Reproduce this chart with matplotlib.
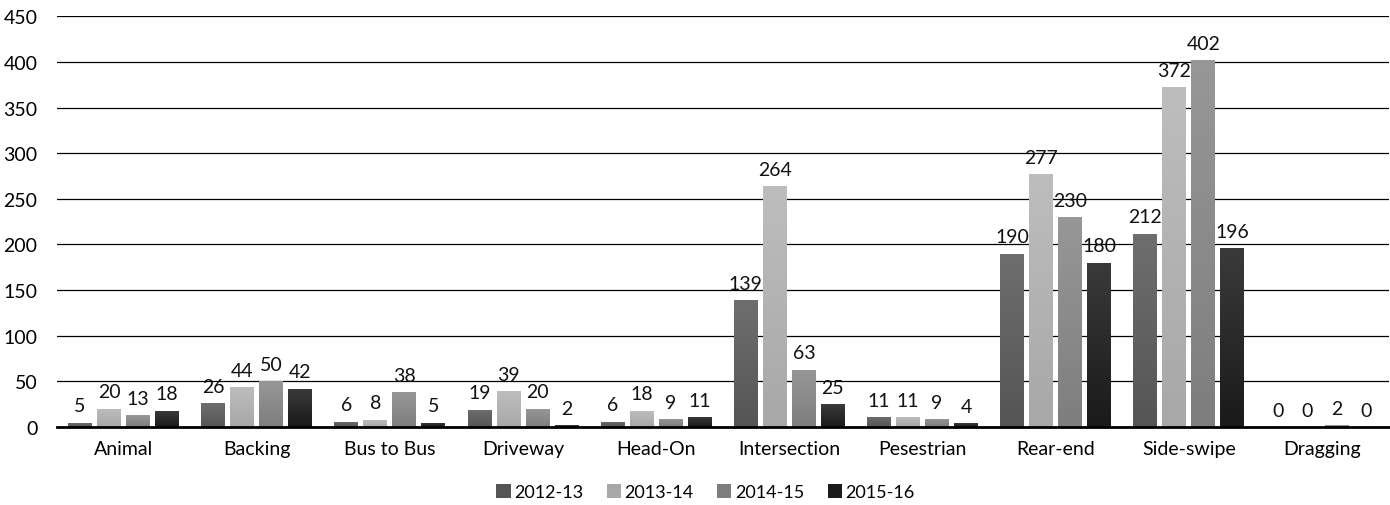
import numpy as np
import matplotlib.pyplot as plt
from matplotlib.colors import LinearSegmentedColormap

categories = ['Animal', 'Backing', 'Bus to Bus', 'Driveway', 'Head-On',
              'Intersection', 'Pesestrian', 'Rear-end', 'Side-swipe', 'Dragging']
seasons = ['2012-13', '2013-14', '2014-15', '2015-16']
v_2012 = [5, 26, 6, 19, 6, 139, 11, 190, 212, 0]
v_2013 = [20, 44, 8, 39, 18, 264, 11, 277, 372, 0]
v_2014 = [13, 50, 38, 20, 9, 63, 9, 230, 402, 2]
v_2015 = [18, 42, 5, 2, 11, 25, 4, 180, 196, 0]
series = [v_2012, v_2013, v_2014, v_2015]

# top colour, bottom colour for each season (slight vertical gradient)
shades = [('#6e6e6e', '#555555'), ('#bdbdbd', '#a8a8a8'),
          ('#979797', '#7e7e7e'), ('#3a3a3a', '#1a1a1a')]

plt.rcParams['font.family'] = ['Lato', 'DejaVu Sans']
fs = 14

fig = plt.figure(figsize=(13.9, 5.06), dpi=100)
ax = fig.add_axes([0.041, 0.154, 0.958, 0.812])

x = np.arange(len(categories))
w = 0.18
step = 0.218
for i, (vals, (top, bot)) in enumerate(zip(series, shades)):
    pos = x + (i - 1.5) * step
    bars = ax.bar(pos, vals, width=w, color=bot, label=seasons[i], zorder=3)
    cmap = LinearSegmentedColormap.from_list('g', [bot, top])
    grad = np.linspace(0, 1, 64).reshape(-1, 1)
    for b in bars:
        h = b.get_height()
        if h <= 0:
            continue
        im = ax.imshow(grad, cmap=cmap, aspect='auto', origin='lower',
                       extent=[b.get_x(), b.get_x() + b.get_width(), 0, h], zorder=3)
        im.set_clip_path(b)
    for p, v in zip(pos, vals):
        ax.annotate(str(v), (p, v), xytext=(0, 6), textcoords='offset points',
                    ha='center', va='bottom', fontsize=fs, color='#111111', zorder=4)

ax.set_xlim(-0.5, len(categories) - 0.5)
ax.set_ylim(0, 450)
ax.set_yticks(range(0, 451, 50))
ax.set_xticks(x)
ax.set_xticklabels(categories, fontsize=fs)
ax.tick_params(axis='y', length=0, labelsize=fs, pad=14)
ax.tick_params(axis='x', length=0, pad=9)
ax.yaxis.grid(True, color='black', linewidth=0.9, zorder=0)
ax.set_axisbelow(True)
for s in ['top', 'right', 'left']:
    ax.spines[s].set_visible(False)
ax.spines['bottom'].set_linewidth(2)
ax.spines['bottom'].set_zorder(5)

leg = ax.legend(loc='upper center', bbox_to_anchor=(0.487, -0.1), ncol=4, frameon=False,
                fontsize=13, handlelength=0.78, handleheight=0.78, handletextpad=0.2,
                columnspacing=1.3)

fig.savefig('out.png', dpi=100)
